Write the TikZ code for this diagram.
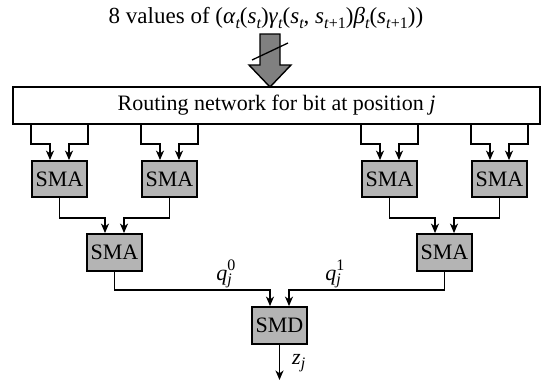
\documentclass[tikz,border=0pt]{standalone}
\usepackage{fontspec}
\setmainfont{Liberation Serif}
\usetikzlibrary{arrows.meta}
\definecolor{boxgray}{RGB}{180,180,180}
\definecolor{arrgray}{RGB}{128,128,128}
\newcommand{\sbs}[1]{\raisebox{-4.5pt}{\fontsize{16}{16}\selectfont\itshape #1}}
\newcommand{\sps}[1]{\raisebox{10pt}{\fontsize{16}{16}\selectfont #1}}
\newcommand{\mv}[1]{\textit{#1}}
\begin{document}
\begin{tikzpicture}[x=1pt,y=-1pt,
  every node/.style={font=\fontsize{22}{24}\selectfont, inner sep=0pt},
  sma/.style={draw, line width=1.8pt, fill=boxgray, minimum width=55pt, minimum height=36pt},
  route/.style={draw, line width=1.6pt, fill=white, minimum width=527pt, minimum height=37pt},
  arr/.style={line width=1.6pt, -{Stealth[length=9.5pt,width=8pt,inset=2.8pt]}},
]
\useasboundingbox (0,0) rectangle (551,383);
\node[font=\fontsize{23}{25}\selectfont] (title) at (266,18) {8 values of (\mv{α}\sbs{t}(\mv{s}\sbs{t})\mv{γ}\sbs{t}(\mv{s}\sbs{t}, \mv{s}\sbs{t\textup{+1}})\mv{β}\sbs{t}(\mv{s}\sbs{t\textup{+1}}))};
\node[route] (rn) at (276.5,105.5) {Routing network for bit at position \textit{j}};
% big arrow
\coordinate (tip) at (270,87);
\draw[line width=1.4pt, fill=arrgray, line join=miter]
  (tip) -- ++(-21,-22) -- ++(11,0) -- ++(0,-31) -- ++(20,0) -- ++(0,31) -- ++(11,0) -- cycle;
\draw[line width=1.3pt] (252,60) -- (288,43);
% top SMAs
\node[sma] (a1) at (59.5,179) {SMA};
\node[sma] (a2) at (169.5,179) {SMA};
\node[sma] (a3) at (389.5,179) {SMA};
\node[sma] (a4) at (499.5,179) {SMA};
\foreach \n in {a1,a2,a3,a4}{
  \draw[arr] (rn.south -| \n.west) -- ++(0,19) -| ([xshift=-9.5pt]\n.north);
  \draw[arr] (rn.south -| \n.east) -- ++(0,19) -| ([xshift=9.5pt]\n.north);
}
% middle SMAs
\node[sma, minimum height=37pt] (b1) at (114.5,252.5) {SMA};
\node[sma, minimum height=37pt] (b2) at (444.5,252.5) {SMA};
\draw[arr] (a1.south) -- ++(0,20) -| ([xshift=-9.5pt]b1.north);
\draw[arr] (a2.south) -- ++(0,20) -| ([xshift=9.5pt]b1.north);
\draw[arr] (a3.south) -- ++(0,20) -| ([xshift=-9.5pt]b2.north);
\draw[arr] (a4.south) -- ++(0,20) -| ([xshift=9.5pt]b2.north);
% SMD
\node[sma, minimum height=37pt] (smd) at (279.5,325.5) {SMD};
\draw[arr] (b1.south) -- ++(0,18) -| ([xshift=-9.5pt]smd.north);
\draw[arr] (b2.south) -- ++(0,18) -| ([xshift=9.5pt]smd.north);
\node (q0) at (224,274) {\textit{q}\rlap{\sps{0}}\sbs{j}};
\node (q1) at (333,274) {\textit{q}\rlap{\sps{1}}\sbs{j}};
\coordinate (out) at (279.5,380);
\draw[arr] (smd.south) -- (out);
\node[anchor=west] (z) at (292,363) {\textit{z}\sbs{j}};
\end{tikzpicture}
\end{document}
